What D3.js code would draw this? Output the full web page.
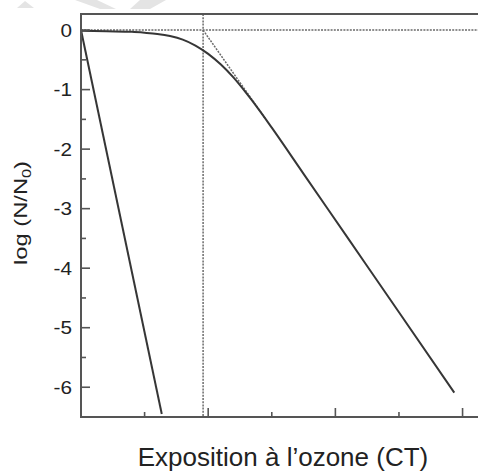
<!DOCTYPE html>
<html>
<head>
    <meta charset="utf-8">
    <title>Inactivation par l'ozone</title>
    <style>
        body { margin: 0; background: #fff; }
        text { font-family: "Liberation Sans", Arial, sans-serif; fill: #222; }
        .curve { fill: none; stroke: #363636; stroke-width: 2px; }
        .guide { fill: none; stroke: #6a6a6a; stroke-width: 1.5px; stroke-dasharray: 2,1.2; }
        .frame { stroke: #555; stroke-width: 2px; }
        .tick { stroke: #555; stroke-width: 1.6px; }
    </style>
</head>
<body>
<svg width="478" height="474"></svg>
<script src="https://d3js.org/d3.v7.min.js"></script>
<script>
// courbe sans épaulement (inactivation immédiate)
const fastCT = [0, 0.635];
const fastLog = [0, -6.45];

// courbe avec épaulement
const slowCT = [0, 0.2, 0.4, 0.5, 0.6, 0.7, 0.8, 0.9, 1.0, 1.1, 1.2, 1.3, 1.4, 1.5, 1.75, 2.1, 2.5, 2.935];
const slowLog = [-0.01, -0.02, -0.03, -0.045, -0.065, -0.1, -0.16, -0.26, -0.4, -0.58, -0.8, -1.06, -1.34, -1.64, -2.415, -3.5, -4.74, -6.09];

// tangente pointillée et délai (lag)
const lagCT = 0.96;
const tangentCT = [0.96, 1.45];
const tangentLog = [0, -1.49];

const yTicks = [0, -1, -2, -3, -4, -5, -6];
const yMinor = [-0.5, -1.5, -2.5, -3.5, -4.5, -5.5];
const xTicks = [1, 2, 3];
const xMinor = [0.5, 1.5, 2.5];

const svg = d3.select("svg");
const mLeft = 81, mRight = 488, mTop = 14, mBottom = 417;

const x = d3.scaleLinear().domain([0, 3.2]).range([mLeft, mRight]);
const y = d3.scaleLinear().domain([-6.5, 0.27]).range([mBottom, mTop]);

// filigrane pâle en haut
const ghost = [
    [[17, 8], [25, 1], [34, 8]],
    [[75, 0], [97, 0], [116, 9], [100, 9]],
    [[140, 0], [166, 0], [150, 9], [130, 9]]
];
svg.append("g").selectAll("polygon")
    .data(ghost)
    .join("polygon")
    .attr("points", d => d.map(p => p.join(",")).join(" "))
    .attr("fill", "#e4e4e4");

const line = d3.line().x(d => x(d[0])).y(d => y(d[1]));

svg.append("defs").append("clipPath").attr("id", "plot")
    .append("rect").attr("x", mLeft).attr("y", mTop).attr("width", mRight - mLeft).attr("height", mBottom - mTop);

const plot = svg.append("g").attr("clip-path", "url(#plot)");

// guides pointillés
plot.append("line").attr("class", "guide")
    .attr("x1", mLeft).attr("x2", mRight).attr("y1", y(0)).attr("y2", y(0));
plot.append("line").attr("class", "guide")
    .attr("x1", x(lagCT)).attr("x2", x(lagCT)).attr("y1", mTop).attr("y2", mBottom);
plot.append("path").attr("class", "guide")
    .attr("d", line(d3.zip(tangentCT, tangentLog)));

plot.append("path").attr("class", "curve")
    .attr("d", line(d3.zip(fastCT, fastLog)));
plot.append("path").attr("class", "curve")
    .attr("d", line.curve(d3.curveMonotoneX)(d3.zip(slowCT, slowLog)));

// cadre
svg.append("line").attr("class", "frame").attr("x1", mLeft).attr("x2", mRight).attr("y1", mTop).attr("y2", mTop);
svg.append("line").attr("class", "frame").attr("x1", mLeft).attr("x2", mRight).attr("y1", mBottom).attr("y2", mBottom);
svg.append("line").attr("class", "frame").attr("x1", mLeft).attr("x2", mLeft).attr("y1", mTop - 1).attr("y2", mBottom + 1);

// graduations vers l'intérieur
svg.append("g").selectAll("line")
    .data(yTicks.map(v => [v, 9]).concat(yMinor.map(v => [v, 5])))
    .join("line").attr("class", "tick")
    .attr("x1", mLeft).attr("x2", d => mLeft + d[1])
    .attr("y1", d => y(d[0])).attr("y2", d => y(d[0]));

svg.append("g").selectAll("line")
    .data(xTicks.map(v => [v, 9]).concat(xMinor.map(v => [v, 5])))
    .join("line").attr("class", "tick")
    .attr("x1", d => x(d[0])).attr("x2", d => x(d[0]))
    .attr("y1", mBottom).attr("y2", d => mBottom - d[1]);

svg.append("g").selectAll("text")
    .data(yTicks)
    .join("text")
    .attr("transform", d => `translate(${mLeft - 9},${y(d)}) scale(1.15,1)`)
    .attr("dy", "0.36em")
    .attr("text-anchor", "end")
    .attr("font-size", 18)
    .text(d => d === 0 ? "0" : "-" + Math.abs(d));

// titres des axes
svg.append("text")
    .attr("x", 283).attr("y", 466)
    .attr("text-anchor", "middle")
    .attr("font-size", 26)
    .text("Exposition à l’ozone (CT)");

const ylab = svg.append("text")
    .attr("transform", "translate(27,213) rotate(-90) scale(1.25,1)")
    .attr("text-anchor", "middle")
    .attr("font-size", 19);
ylab.append("tspan").text("log (N/N");
ylab.append("tspan").attr("font-size", 13).attr("dy", 4).text("0");
ylab.append("tspan").attr("dy", -4).text(")");
</script>
</body>
</html>
